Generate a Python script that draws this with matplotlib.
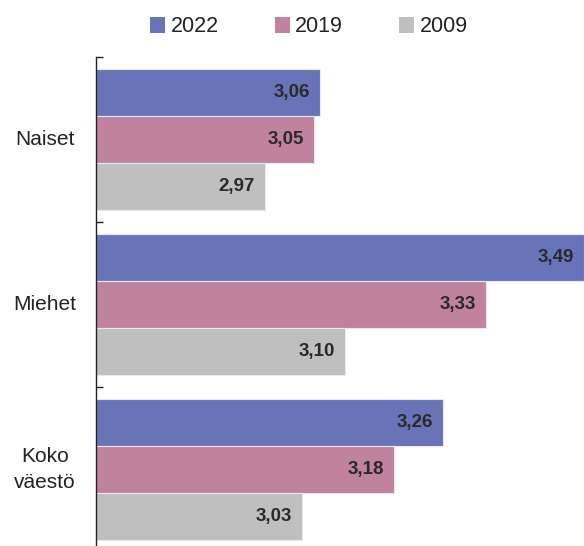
import numpy as np
import matplotlib
matplotlib.use("Agg")
import matplotlib.pyplot as plt
from matplotlib.patches import Patch
from matplotlib.transforms import offset_copy

plt.rcParams['font.family'] = ['Liberation Sans', 'DejaVu Sans']

# data
categories = ['Naiset', 'Miehet', 'Koko\nväestö']
years = ['2022', '2019', '2009']
values_2022 = [3.06, 3.49, 3.26]
values_2019 = [3.05, 3.33, 3.18]
values_2009 = [2.97, 3.10, 3.03]
colors = ['#6774b8', '#c0829f', '#bfbfbf']

series = [values_2022, values_2019, values_2009]

fig = plt.figure(figsize=(5.84, 5.46), dpi=100)
ax = fig.add_axes([96 / 584, 0, 488 / 584, 489 / 546])

bar_h = 0.285
y = np.arange(len(categories))
xmin = 2.695

for k, (vals, col) in enumerate(zip(series, colors)):
    pos = y + (k - 1) * bar_h
    ax.barh(pos, np.array(vals) - xmin, left=xmin, height=bar_h,
            color=col, edgecolor='#e8e8f0', linewidth=0.8)
    for p, v in zip(pos, vals):
        tr = offset_copy(ax.transData, fig=fig, x=-10, y=0, units='dots')
        ax.text(v, p, f"{v:.2f}".replace('.', ','), transform=tr,
                ha='right', va='center', fontsize=13.5, fontweight='bold',
                color='#2a2a2a')

ax.set_xlim(xmin, 3.49)
ax.set_ylim(-0.5 + 489 / 165, -0.5)

for s in ['top', 'right', 'bottom']:
    ax.spines[s].set_visible(False)
ax.spines['left'].set_color('#222222')
ax.spines['left'].set_linewidth(1.0)
ax.set_xticks([])

ax.set_yticks(y - 0.5)
ax.set_yticklabels([])
ax.tick_params(axis='y', direction='in', length=5, color='#222222', width=1)
for p, c in zip(y, categories):
    tr = offset_copy(ax.get_yaxis_transform(), fig=fig, x=-51, y=0, units='dots')
    ax.text(0, p, c, transform=tr,
            ha='center', va='center', fontsize=15, color='#222222',
            linespacing=1.45)

handles = [Patch(facecolor=c, edgecolor='none') for c in colors]
fig.legend(handles, years, loc='center', bbox_to_anchor=(309 / 584, 1 - 27 / 546),
           ncol=3, frameon=False, fontsize=15.5, handlelength=0.7, handleheight=0.7,
           handletextpad=0.25, columnspacing=2.6, labelcolor='#222222')

fig.savefig('out.png', dpi=100)
